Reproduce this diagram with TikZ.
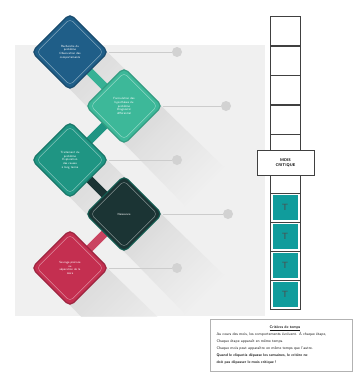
\documentclass[tikz,border=0pt]{standalone}
\usetikzlibrary{shapes, calc}
\pgfdeclarelayer{bg}
\pgfdeclarelayer{background}
\pgfsetlayers{bg,background,main}
\definecolor{dblue}{HTML}{1F5E88}
\definecolor{lteal}{HTML}{3DB899}
\definecolor{mteal}{HTML}{1F9583}
\definecolor{dgreen}{HTML}{1B3434}
\definecolor{dred}{HTML}{C42F50}
\definecolor{tcyan}{HTML}{109C9C}
\tikzstyle{losange}=[rectangle, rotate=45, minimum size=54pt,
    inner sep=0pt, rounded corners=5pt, line width=1.2pt]
\tikzstyle{inlos}=[rectangle, rotate=45, minimum size=47pt,
    inner sep=0pt, rounded corners=4pt, draw=white, draw opacity=0.45, line width=0.4pt]
\tikzstyle{lab}=[text=white, font=\sffamily\fontsize{3}{3.7}\selectfont,
    align=center, text width=34pt]
\tikzstyle{link}=[line width=8pt]
\tikzstyle{arm}=[draw=gray!40, line width=1pt]
\tikzstyle{pin}=[circle, fill=gray!35, minimum size=10pt, inner sep=0pt]
\tikzstyle{cell}=[draw=gray!50!black, minimum width=30pt, minimum height=29pt,
    inner sep=0pt, line width=0.6pt]
\tikzstyle{tcell}=[fill=tcyan, draw=white, line width=0.5pt, minimum width=26pt,
    minimum height=26pt, inner sep=0pt, text=gray!60!black, font=\sffamily\small]
\def\shadowlen{62}

\begin{document}
\begin{tikzpicture}[x=1pt, y=-1pt]
    \useasboundingbox (0,0) rectangle (353,372);
    \begin{pgfonlayer}{bg}
        \fill[gray!12] (15,45) rectangle (265,316);
    \end{pgfonlayer}
    % steps
    \node (d1) [losange, fill=dblue, draw=dblue!80!black] at (70,52) {};
    \node (d2) [losange, fill=lteal, draw=lteal!85!black] at (124,106) {};
    \node (d3) [losange, fill=mteal, draw=mteal!80!black] at (70,160) {};
    \node (d4) [losange, fill=dgreen, draw=mteal!60!black] at (124,214) {};
    \node (d5) [losange, fill=dred, draw=dred!80!black] at (70,268) {};
    \foreach \d in {d1,d2,d3,d4,d5}
        \node (\d i) [inlos] at (\d) {};
    \node (l1) [lab] at (d1) {Recherche du\\problème\\Observation des\\comportements};
    \node (l2) [lab] at (d2) {Formulation des\\hypothèses du\\problème\\Diagnostic\\différentiel};
    \node (l3) [lab] at (d3) {Traitement du\\problème\\Exploration\\des causes\\à long terme};
    \node (l4) [lab] at (d4) {Naissance};
    \node (l5) [lab] at (d5) {Sevrage précoce\\ou\\séparation de la\\mère};
    \begin{pgfonlayer}{background}
        \begin{scope}
            \clip (15,45) rectangle (265,316);
            \foreach \d in {d1,d2,d3,d4,d5}
                \shade[top color=gray!50, bottom color=gray!12, shading angle=45, opacity=0.6]
                    ($(\d.center)!0.93!(\d.north west)$) -- ($(\d.center)!0.93!(\d.north east)$)
                    -- ($(\d.south east)+(\shadowlen,\shadowlen)$)
                    -- ($(\d.south west)+(\shadowlen,\shadowlen)$) -- cycle;
        \end{scope}
        \draw[link, lteal!80!mteal] (d1.center) -- (d2.center);
        \draw[link, mteal] (d2.center) -- (d3.center);
        \draw[link, dgreen] (d3.center) -- (d4.center);
        \draw[link, dred!90!white] (d4.center) -- (d5.center);
    \end{pgfonlayer}
    % pins
    \node (p1) [pin] at (177,52) {};
    \node (p2) [pin] at (226,106) {};
    \node (p3) [pin] at (177,160) {};
    \node (p4) [pin] at (228,214) {};
    \node (p5) [pin] at (177,268) {};
    \foreach \i in {1,...,5}
        \draw[arm] (d\i.south east) -- (p\i);
    % month column
    \draw[gray!50!black, line width=0.6pt, fill=white] (270,16) rectangle (300,309);
    \foreach \i in {1,...,4}
        \node (c\i) [cell] at (285,{16+29.7*(\i-1)+14.85}) {};
    \foreach \i in {1,...,4}{
        \node (b\i) [cell] at (285,{193+29*(\i-1)+14.5}) {};
        \node (t\i) [tcell] at (b\i) {T};
    }
    \node (mois) [draw=gray!50!black, fill=white, line width=0.6pt, minimum width=57pt,
        minimum height=25pt, inner sep=0pt, align=center,
        font=\sffamily\bfseries\fontsize{4}{5}\selectfont] at (285.5,162.5) {MOIS\\CRITIQUE};
    % criteria box
    \node (crit) [draw=gray!60, line width=0.5pt, minimum width=142pt, minimum height=52pt,
        inner sep=0pt, anchor=north west] at (210,319) {};
    \node (crittxt) [anchor=north west, align=left, text=gray!20!black,
        font=\sffamily\fontsize{3.8}{7}\selectfont, text width=137pt] at (213,322)
        {{\centering\textbf{\underline{Critères de temps}}\par}
         Au cours des mois, les comportements évoluent. À chaque étape,\\
         Chaque étape apparaît en même temps.\\
         Chaque mois peut apparaître en même temps que l'autre.\\
         \textbf{Quand le cliquetis dépasse les semaines, le critère ne}\\
         \textbf{doit pas dépasser le mois critique !}};
\end{tikzpicture}
\end{document}
